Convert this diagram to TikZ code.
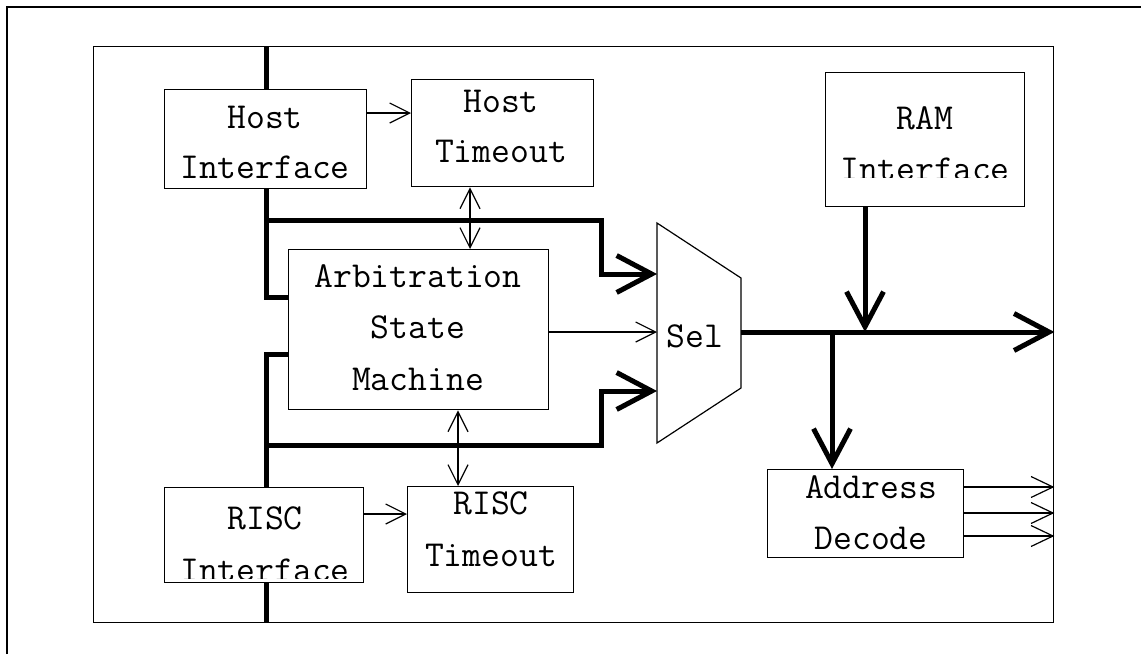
\documentclass[tikz,border=0pt]{standalone}
\usetikzlibrary{arrows.meta}
\begin{document}
\begin{tikzpicture}[x=0.5pt,y=-0.5pt,
  box/.style={draw, line width=0.7pt, inner sep=0pt, anchor=north west},
  txt/.style={inner sep=0pt, anchor=base, font=\ttfamily\fontsize{18.3}{20}\selectfont},
  thinline/.style={line width=0.6pt},
  thinarr/.style={thinline, -{Straight Barb[length=10pt,width=10pt]}},
  dblarr/.style={thinline, {Straight Barb[length=10pt,width=10pt]}-{Straight Barb[length=10pt,width=10pt]}},
  outarr/.style={thinline, -{Straight Barb[length=11pt,width=10.5pt]}},
  bus/.style={line width=2.5pt},
  busarr/.style={bus, -{Straight Barb[length=17.5pt,width=18.5pt]}},
]
\useasboundingbox (0,0) rectangle (1141,654);

% outer frame (top and left edges visible)
\draw[line width=1pt] (7,654) -- (7,7) -- (1141,7);

% inner frame
\node[box, minimum width=480pt, minimum height=288pt] (frame) at (93,46) {};

% boxes
\node[box, minimum width=101pt, minimum height=49.5pt] (hostif) at (164,89) {};
\node[box, minimum width=91pt, minimum height=53.5pt] (hostto) at (411,79) {};
\node[box, minimum width=130pt, minimum height=80pt] (arb) at (288,249) {};
\node[box, minimum width=99.5pt, minimum height=47.5pt] (riscif) at (164,487) {};
\node[box, minimum width=83pt, minimum height=53pt] (riscto) at (407,486) {};
\node[box, minimum width=99.5pt, minimum height=67pt] (ramif) at (825,72) {};
\node[box, minimum width=98pt, minimum height=44pt] (addr) at (767,469) {};

% selector
\draw[line width=0.6pt] (657,223) -- (741,278) -- (741,388) -- (657,443) -- cycle;
\coordinate (selA) at (657,274);
\coordinate (selB) at (657,391);
\coordinate (selM) at (657,332);
\coordinate (selO) at (741,332);
\coordinate (busx) at (266,0);
\coordinate (ramj) at (865,332);
\coordinate (brj) at (832,332);

% texts
\node[txt] (t1a) at (265,128) {Host};
\node[txt] (t1b) at (265,178) {Interface};
\node[txt] (t2a) at (501,112) {Host};
\node[txt] (t2b) at (501,162) {Timeout};
\node[txt] (t3a) at (418,287) {Arbitration};
\node[txt] (t3b) at (418,338) {State};
\node[txt] (t3c) at (418,390) {Machine};
\node[txt] (t4a) at (265,529) {RISC};
\begin{scope}
  \clip (150,540) rectangle (380,578);
  \node[txt] (t4b) at (265,581) {Interface};
\end{scope}
\node[txt] (t5a) at (491,514) {RISC};
\node[txt] (t5b) at (491,566) {Timeout};
\node[txt] (t6a) at (925,129) {RAM};
\begin{scope}
  \clip (820,140) rectangle (1030,177);
  \node[txt] (t6b) at (925,180) {Interface};
\end{scope}
\node[txt] (t7a) at (871,498) {Address};
\node[txt] (t7b) at (871,549) {Decode};
\node[txt] (sel) at (695,347) {Sel};

% buses
\draw[bus] (frame.north -| busx) -- (hostif.north -| busx);
\draw[bus] (hostif.south -| busx) -- (266,297) -- (arb.west |- 0,297);
\draw[busarr] (266,220) -- (601,220) -- (601,274) -- (selA);
\draw[bus] (arb.west |- 0,354) -- (266,354) -- (riscif.north -| busx);
\draw[busarr] (266,445) -- (601,445) -- (601,391) -- (selB);
\draw[bus] (riscif.south -| busx) -- (frame.south -| busx);
\draw[busarr] (selO) -- (frame.east |- selO);
\draw[busarr] (ramif.south -| ramj) -- (ramj);
\draw[busarr] (brj) -- (addr.north -| brj);

% thin connectors
\draw[thinarr] (hostif.east |- 0,113) -- (hostto.west |- 0,113);
\draw[dblarr] (hostto.south -| 470,0) -- (arb.north -| 470,0);
\draw[thinarr] (arb.east |- selM) -- (selM);
\draw[dblarr] (arb.south -| 458,0) -- (riscto.north -| 458,0);
\draw[thinarr] (riscif.east |- 0,514) -- (riscto.west |- 0,514);
\draw[outarr] (addr.east |- 0,487) -- (frame.east |- 0,487);
\draw[outarr] (addr.east |- 0,513) -- (frame.east |- 0,513);
\draw[outarr] (addr.east |- 0,536) -- (frame.east |- 0,536);
\end{tikzpicture}
\end{document}
